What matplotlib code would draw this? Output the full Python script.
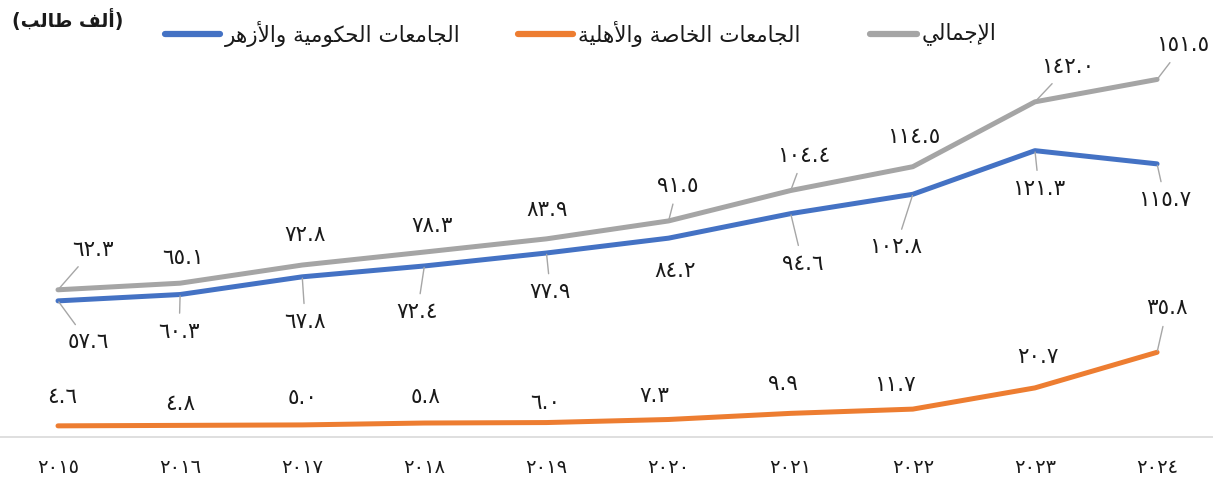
import matplotlib
matplotlib.use("Agg")
import matplotlib.pyplot as plt
from matplotlib.lines import Line2D

# ---------------- data ----------------
years = [2015, 2016, 2017, 2018, 2019, 2020, 2021, 2022, 2023, 2024]
total = [62.3, 65.1, 72.8, 78.3, 83.9, 91.5, 104.4, 114.5, 142.0, 151.5]
gov = [57.6, 60.3, 67.8, 72.4, 77.9, 84.2, 94.6, 102.8, 121.3, 115.7]
private = [4.6, 4.8, 5.0, 5.8, 6.0, 7.3, 9.9, 11.7, 20.7, 35.8]

name_total = "الإجمالي"
name_gov = "الجامعات الحكومية والأزهر"
name_private = "الجامعات الخاصة والأهلية"
unit_label = "ألف طالب"

# label offsets in pixels (layout only)
off_total = [(35, 40), (3, 25), (3, 30), (8, 26), (1, 29), (9, 35), (13, 35), (1, 30), (33, 35), (26, 34)]
lead_total = [True, False, False, False, False, True, True, False, True, True]
off_gov = [(30, -41), (-1, -37), (3, -45), (-7, -46), (4, -39), (7, -33), (12, -50), (-17, -53), (4, -38), (8, -36)]
lead_gov = [True, True, True, True, True, False, True, True, True, True]
off_priv = [(4, 29), (0, 21), (0, 27), (1, 26), (-1, 20), (-14, 23), (-8, 29), (-18, 24), (3, 31), (10, 44)]
lead_priv = [False] * 9 + [True]

C_GOV = "#4472C4"
C_PRIV = "#ED7D31"
C_TOT = "#A5A5A5"

# ------------- minimal Arabic shaping -------------
FORMS = {
    '\u0627': ('\uFE8D', '\uFE8E', None, None),
    '\u0623': ('\uFE83', '\uFE84', None, None),
    '\u0625': ('\uFE87', '\uFE88', None, None),
    '\u0628': ('\uFE8F', '\uFE90', '\uFE91', '\uFE92'),
    '\u0629': ('\uFE93', '\uFE94', None, None),
    '\u062A': ('\uFE95', '\uFE96', '\uFE97', '\uFE98'),
    '\u062C': ('\uFE9D', '\uFE9E', '\uFE9F', '\uFEA0'),
    '\u062D': ('\uFEA1', '\uFEA2', '\uFEA3', '\uFEA4'),
    '\u062E': ('\uFEA5', '\uFEA6', '\uFEA7', '\uFEA8'),
    '\u0631': ('\uFEAD', '\uFEAE', None, None),
    '\u0632': ('\uFEAF', '\uFEB0', None, None),
    '\u0635': ('\uFEB9', '\uFEBA', '\uFEBB', '\uFEBC'),
    '\u0637': ('\uFEC1', '\uFEC2', '\uFEC3', '\uFEC4'),
    '\u0639': ('\uFEC9', '\uFECA', '\uFECB', '\uFECC'),
    '\u0641': ('\uFED1', '\uFED2', '\uFED3', '\uFED4'),
    '\u0643': ('\uFED9', '\uFEDA', '\uFEDB', '\uFEDC'),
    '\u0644': ('\uFEDD', '\uFEDE', '\uFEDF', '\uFEE0'),
    '\u0645': ('\uFEE1', '\uFEE2', '\uFEE3', '\uFEE4'),
    '\u0647': ('\uFEE9', '\uFEEA', '\uFEEB', '\uFEEC'),
    '\u0648': ('\uFEED', '\uFEEE', None, None),
    '\u064A': ('\uFEF1', '\uFEF2', '\uFEF3', '\uFEF4'),
}
LAM_ALEF = {'\u0627': ('\uFEFB', '\uFEFC'),
            '\u0623': ('\uFEF7', '\uFEF8'),
            '\u0625': ('\uFEF9', '\uFEFA')}


def shape(s):
    toks = []
    i = 0
    while i < len(s):
        c = s[i]
        if c == '\u0644' and i + 1 < len(s) and s[i + 1] in LAM_ALEF:
            toks.append(('LIG', s[i + 1]))
            i += 2
            continue
        toks.append((c, None))
        i += 1

    def jn(t):
        if t[0] == 'LIG':
            return False
        f = FORMS.get(t[0])
        return f is not None and f[2] is not None

    def jp(t):
        return t[0] == 'LIG' or t[0] in FORMS

    out = []
    for k, t in enumerate(toks):
        pj = k > 0 and jn(toks[k - 1]) and jp(t)
        nj = k + 1 < len(toks) and jn(t) and jp(toks[k + 1])
        if t[0] == 'LIG':
            out.append(LAM_ALEF[t[1]][1 if pj else 0])
        elif t[0] in FORMS:
            f = FORMS[t[0]]
            if pj and nj:
                out.append(f[3])
            elif pj:
                out.append(f[1])
            elif nj:
                out.append(f[2])
            else:
                out.append(f[0])
        else:
            out.append(t[0])
    return ''.join(reversed(out))


AR_DIG = str.maketrans("0123456789", "٠١٢٣٤٥٦٧٨٩")


def ar_num(v, fmt="{:.1f}"):
    return fmt.format(v).translate(AR_DIG)


plt.rcParams['font.family'] = ['DejaVu Sans']

W, H = 1213, 487
fig = plt.figure(figsize=(W / 100, H / 100), dpi=100)
ax_bottom_px = 436.7
ax_top_px = 59.4
ax = fig.add_axes([0, (H - ax_bottom_px) / H, 1, (ax_bottom_px - ax_top_px) / H])

x = list(range(len(years)))
lw = 3.6
ax.plot(x, total, color=C_TOT, lw=lw, solid_capstyle='round', solid_joinstyle='round', zorder=3)
ax.plot(x, gov, color=C_GOV, lw=lw, solid_capstyle='round', solid_joinstyle='round', zorder=3)
ax.plot(x, private, color=C_PRIV, lw=lw, solid_capstyle='round', solid_joinstyle='round', zorder=3)

ax.set_xlim(-0.475, 9.458)
ax.set_ylim(0, 160)
ax.set_yticks([])
for s in ['top', 'left', 'right']:
    ax.spines[s].set_visible(False)
ax.spines['bottom'].set_color('#D9D9D9')
ax.spines['bottom'].set_linewidth(1.2)
ax.set_xticks(x)
ax.set_xticklabels([ar_num(y, "{:d}") for y in years], fontsize=14, color='#1a1a1a')
ax.tick_params(axis='x', length=0, pad=15)


def add_labels(vals, offs, leads):
    for i, (v, (dx, dy), ld) in enumerate(zip(vals, offs, leads)):
        kw = {}
        if ld:
            kw['arrowprops'] = dict(arrowstyle='-', color='#A6A6A6', lw=1.0,
                                    shrinkA=4, shrinkB=1)
        ax.annotate(ar_num(v), xy=(i, v), xytext=(dx, dy), textcoords='offset pixels',
                    ha='center', va='center', fontsize=15.5, color='#1a1a1a',
                    zorder=4, **kw)


add_labels(total, off_total, lead_total)
add_labels(gov, off_gov, lead_gov)
add_labels(private, off_priv, lead_priv)

# legend (RTL: line on the left of each text)
leg_y = 1 - 34 / H
entries = [(C_GOV, name_gov, 165, 220), (C_PRIV, name_private, 518, 573), (C_TOT, name_total, 870, 917)]
for col, name, x0, x1 in entries:
    fig.add_artist(Line2D([x0 / W, x1 / W], [leg_y, leg_y], color=col, lw=4.5,
                          solid_capstyle='round', transform=fig.transFigure))
    fig.text((x1 + 5) / W, leg_y, shape(name), ha='left', va='center',
             fontsize=15.5, color='#1a1a1a')

fig.text(12 / W, 1 - 20 / H, "(" + shape(unit_label) + ")", ha='left', va='center',
         fontsize=13.5, fontweight='bold', color='#1a1a1a')

fig.savefig("out.png", dpi=100)
